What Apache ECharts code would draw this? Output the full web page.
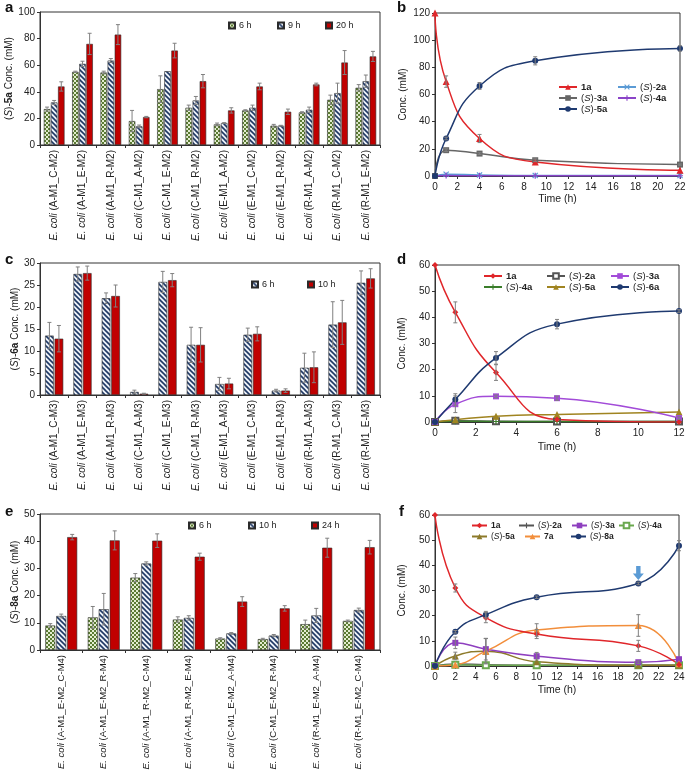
<!DOCTYPE html>
<html>
<head>
<meta charset="utf-8">
<script src="https://cdn.jsdelivr.net/npm/echarts@6/dist/echarts.min.js"></script>
<style>
  html, body { margin: 0; padding: 0; background: #fff; }
  #chart { width: 685px; height: 771px; }
</style>
</head>
<body>
<div id="chart"></div>
<script>
// ---- panel a : (S)-5a, two-module strains
const catsA = ['A-M1_C-M2', 'A-M1_E-M2', 'A-M1_R-M2', 'C-M1_A-M2', 'C-M1_E-M2', 'C-M1_R-M2',
  'E-M1_A-M2', 'E-M1_C-M2', 'E-M1_R-M2', 'R-M1_A-M2', 'R-M1_C-M2', 'R-M1_E-M2'];
const a6h = [27, 55, 54.5, 18, 42, 28, 15.5, 26, 14.5, 24.5, 34, 43];
const a6hErr = [1.5, 0.5, 1, 8, 10, 2, 1, 0.5, 1, 0.5, 3.5, 2.4];
const a9h = [32, 61, 63.5, 14, 55.5, 33.5, 16.5, 28, 14.5, 26.5, 39, 48];
const a9hErr = [1.5, 2, 1.5, 1, 0, 3, 0.3, 2, 0.3, 2, 7.5, 4.6];
const a20h = [44, 76, 83, 21, 71, 48, 26, 44, 25, 45.5, 62, 66.6];
const a20hErr = [3.5, 8, 7.5, 0.5, 5.5, 5, 2, 2.5, 2, 1, 9, 3.8];

// ---- panel c : (S)-6a
const catsC = ['A-M1_C-M3', 'A-M1_E-M3', 'A-M1_R-M3', 'C-M1_A-M3', 'C-M1_E-M3', 'C-M1_R-M3',
  'E-M1_A-M3', 'E-M1_C-M3', 'E-M1_R-M3', 'R-M1_A-M3', 'R-M1_C-M3', 'R-M1_E-M3'];
const c6h = [13.5, 27.5, 22, 0.7, 25.7, 11.4, 2.5, 13.7, 1, 6.2, 16, 25.5];
const c6hErr = [3, 1.6, 1.2, 0.4, 2.4, 4, 1.5, 1.5, 0.3, 3.3, 5.2, 2.7];
const c10h = [12.8, 27.7, 22.5, 0.3, 26.1, 11.4, 2.6, 13.9, 1, 6.3, 16.5, 26.5];
const c10hErr = [3, 1.6, 2.5, 0.1, 1.5, 3.9, 1.2, 1.6, 0.4, 3.5, 5, 2.2];

// ---- panel e : (S)-8a, three-module strains
const catsE = ['A-M1_E-M2_C-M4', 'A-M1_E-M2_R-M4', 'A-M1_R-M2_C-M4', 'A-M1_R-M2_E-M4',
  'C-M1_E-M2_A-M4', 'C-M1_E-M2_R-M4', 'R-M1_E-M2_A-M4', 'R-M1_E-M2_C-M4'];
const e6h = [9, 12, 26.6, 11.2, 4.2, 4, 9.5, 10.7];
const e6hErr = [0.7, 4, 1.5, 1, 0.3, 0.3, 1.5, 0.3];
const e10h = [12.5, 15, 31.8, 11.8, 6.1, 5.3, 12.7, 14.7];
const e10hErr = [0.7, 5.8, 0.6, 0.8, 0.3, 0.4, 2.6, 0.7];
const e24h = [41.5, 40.3, 40.2, 34.3, 17.8, 15.3, 37.6, 37.8];
const e24hErr = [1, 3.5, 2.5, 1.3, 1.8, 1, 3.5, 2.5];

// ---- panel b : time course to (S)-5a
const timeB = [0, 1, 4, 9, 22];
const b1a = [120, 69.5, 27.6, 10.3, 4.2];
const b1aErr = [0, 4.2, 3, 0, 0];
const b2a = [0, 1.3, 0.8, 0.4, 0.3];
const b3a = [0, 19, 16.5, 11.6, 8.4];
const b3aErr = [0, 1, 0.6, 1, 0.5];
const b4a = [0, 0.3, 0.2, 0.2, 0.2];
const b5a = [0, 27.6, 66.3, 84.8, 93.9];
const b5aErr = [0, 1, 2.5, 3, 2];

// ---- panel d : time course to (S)-6a
const timeD = [0, 1, 3, 6, 12];
const d1a = [60, 41.9, 18.9, 1, 0];
const d1aErr = [0, 4, 3, 0, 0];
const d2a = [0, 0.5, 0.3, 0.2, 0.2];
const d3a = [0, 6.8, 9.8, 9.1, 1.5];
const d3aErr = [0, 3.2, 0.5, 0.8, 0.5];
const d4a = [0, 0.3, 0.2, 0.2, 0.2];
const d5a = [0, 0.9, 2.2, 2.9, 3.8];
const d6a = [0, 8.6, 24.5, 37.4, 42.4];
const d6aErr = [0, 2.2, 2.4, 1.8, 0.5];

// ---- panel f : time course to (S)-8a
const timeF = [0, 2, 5, 10, 20, 24];
const f1a = [60, 31, 19.2, 12.7, 8, 0.6];
const f1aErr = [0, 1.6, 2, 1.8, 2.2, 0];
const f2a = [0, 0.8, 0.5, 0.3, 0.3, 0.3];
const f3a = [0, 9.2, 6.7, 3.9, 1.5, 2.7];
const f3aErr = [0, 2.3, 4.3, 1.5, 0.5, 0];
const f4a = [0, 0.5, 0.3, 0.3, 0.3, 0.3];
const f5a = [0, 4, 5.9, 1.7, 0.3, 0.3];
const f5aErr = [0, 1.5, 5, 0, 0, 0];
const f7a = [0, 0.5, 5.9, 14.3, 16.1, 0.9];
const f7aErr = [0, 0, 5, 2.5, 4.3, 0];
const f8a = [0, 13.6, 20.4, 27.3, 32.8, 47.8];
const f8aErr = [0, 0.5, 1.3, 0.5, 0.5, 2];
const arrowAt = [20, 37];

const FONT = 'Liberation Sans, Arial, sans-serif';
const RED = '#c00000';
const NAVY = '#1f3a70';

function checkPattern() {
  const c = document.createElement('canvas');
  c.width = 4; c.height = 4;
  const g = c.getContext('2d');
  g.fillStyle = '#e3edd0'; g.fillRect(0, 0, 4, 4);
  g.fillStyle = '#5a7a32'; g.fillRect(0, 0, 2, 2); g.fillRect(2, 2, 2, 2);
  return { image: c, repeat: 'repeat' };
}
function stripePattern() {
  const s = 5;
  const c = document.createElement('canvas');
  c.width = s; c.height = s;
  const g = c.getContext('2d');
  g.fillStyle = '#eef2f8'; g.fillRect(0, 0, s, s);
  g.strokeStyle = '#1f3864'; g.lineWidth = 1.6;
  [-s, 0, s].forEach(k => {
    g.beginPath(); g.moveTo(k - 1, -1); g.lineTo(k + s + 1, s + 1); g.stroke();
  });
  return { image: c, repeat: 'repeat' };
}
const CHECK = checkPattern();
const STRIPE = stripePattern();

const CROSS = 'path://M0,1.4L1.4,0L5,3.6L8.6,0L10,1.4L6.4,5L10,8.6L8.6,10L5,6.4L1.4,10L0,8.6L3.6,5Z';
const PLUS = 'path://M4,0H6V4H10V6H6V10H4V6H0V4H4Z';
const ARROW = 'path://M3,0L7,0L7,7L10,7L5,13L0,7L3,7Z';

// '(S)-5a' -> italic S, bold 5a
function richName(s) {
  const m = s.match(/^\(S\)-(\w+)$/);
  if (m) return '({i|S})-{b|' + m[1] + '}';
  if (/^\d+a$/.test(s)) return '{b|' + s + '}';
  return s;
}
const rich = (fs) => ({
  i: { fontStyle: 'italic', fontSize: fs, fontFamily: FONT, color: '#222' },
  b: { fontWeight: 'bold', fontSize: fs, fontFamily: FONT, color: '#222' },
});

function errShape(x, lo, hi, cap) {
  const st = { stroke: '#808080', lineWidth: 1 };
  return {
    type: 'group',
    children: [
      { type: 'line', shape: { x1: x, y1: lo, x2: x, y2: hi }, style: st },
      { type: 'line', shape: { x1: x - cap, y1: hi, x2: x + cap, y2: hi }, style: st },
      { type: 'line', shape: { x1: x - cap, y1: lo, x2: x + cap, y2: lo }, style: st },
    ],
  };
}

// error bars for grouped bars: n bars per category, this one is index idx
function barErr(gi, vals, errs, n, idx, cg, bg) {
  const data = [];
  vals.forEach((v, i) => { if (errs[i] > 0) data.push([i, v - errs[i], v + errs[i]]); });
  return {
    type: 'custom', xAxisIndex: gi, yAxisIndex: gi, z: 10, silent: true,
    data, encode: { x: 0, y: [1, 2] },
    renderItem(params, api) {
      const band = api.size([1, 0])[0];
      const w = band * (1 - cg) / (n + (n - 1) * bg);
      const gw = w * n + w * bg * (n - 1);
      const base = api.coord([api.value(0), 0]);
      const cx = base[0] - gw / 2 + idx * w * (1 + bg) + w / 2;
      const lo = api.coord([api.value(0), api.value(1)])[1];
      const hi = api.coord([api.value(0), api.value(2)])[1];
      return errShape(cx, lo, hi, 2);
    },
  };
}

function lineErr(gi, xs, vals, errs) {
  const data = [];
  xs.forEach((x, i) => { if (errs[i] > 0) data.push([x, vals[i] - errs[i], vals[i] + errs[i]]); });
  return {
    type: 'custom', xAxisIndex: gi, yAxisIndex: gi, z: 10, silent: true,
    data, encode: { x: 0, y: [1, 2] },
    renderItem(params, api) {
      const lo = api.coord([api.value(0), api.value(1)]);
      const hi = api.coord([api.value(0), api.value(2)]);
      return errShape(lo[0], lo[1], hi[1], 2);
    },
  };
}

function bar(gi, name, vals, color, cg, bg) {
  return {
    type: 'bar', name, xAxisIndex: gi, yAxisIndex: gi, data: vals,
    barCategoryGap: cg * 100 + '%', barGap: bg * 100 + '%',
    itemStyle: { color, borderColor: '#2a2a2a', borderWidth: 0.6 },
    emphasis: { disabled: true },
  };
}

function line(gi, name, xs, ys, color, symbol, size, extra) {
  return Object.assign({
    type: 'line', name, xAxisIndex: gi, yAxisIndex: gi,
    data: xs.map((x, i) => [x, ys[i]]),
    smooth: 0.5, symbol, symbolSize: size, showSymbol: true,
    lineStyle: { color, width: 1.5 },
    itemStyle: { color },
    emphasis: { disabled: true },
  }, extra || {});
}

function catAxis(gi, cats, fs) {
  return {
    type: 'category', gridIndex: gi, data: cats,
    axisLine: { lineStyle: { color: '#333' } },
    axisTick: { show: true, length: 3, lineStyle: { color: '#333' } },
    axisLabel: {
      rotate: 90, interval: 0, fontSize: fs, color: '#222', fontFamily: FONT, margin: 5,
      formatter: v => '{i|E. coli} (' + v + ')',
      rich: { i: { fontStyle: 'italic', fontSize: fs, fontFamily: FONT, color: '#222' } },
    },
  };
}
function valAxisX(gi, max, interval, gap) {
  return {
    type: 'value', gridIndex: gi, min: 0, max, interval,
    splitLine: { show: false },
    axisLine: { show: true, onZero: false, lineStyle: { color: '#333' } },
    axisTick: { show: true, length: 3, lineStyle: { color: '#333' } },
    axisLabel: { fontSize: 10, color: '#222', fontFamily: FONT, margin: 6 },
    name: 'Time (h)', nameLocation: 'middle', nameGap: gap,
    nameTextStyle: { fontSize: 10.5, color: '#222', fontFamily: FONT },
  };
}
function valAxisY(gi, max, interval, name, gap) {
  return {
    type: 'value', gridIndex: gi, min: 0, max, interval,
    splitLine: { show: false },
    axisLine: { show: true, lineStyle: { color: '#333' } },
    axisTick: { show: true, length: 3, lineStyle: { color: '#333' } },
    axisLabel: { fontSize: 10, color: '#222', fontFamily: FONT, margin: 5 },
    name, nameLocation: 'middle', nameGap: gap, nameRotate: 90,
    nameTextStyle: { fontSize: 10, color: '#222', fontFamily: FONT, rich: rich(10) },
  };
}

const legendFmt = n => richName(n.slice(n.indexOf(':') + 1));
function leg(name, left, cy, box, small) {
  const fs = box ? 9 : (small ? 8.5 : 9.5);
  return {
    data: [name], left, top: cy - 6, padding: 0, itemGap: 0,
    itemWidth: box ? 6 : (small ? 15 : 18), itemHeight: box ? 6 : 7,
    icon: box ? 'rect' : undefined,
    selectedMode: false, formatter: legendFmt,
    textStyle: { fontSize: fs, color: '#222', fontFamily: FONT, rich: rich(fs), padding: [0, 0, 0, -1] },
  };
}

const grid = [
  { left: 40, top: 12, width: 340, height: 133 },   // a
  { left: 435, top: 13, width: 245, height: 163 },  // b
  { left: 40, top: 263, width: 340, height: 132 },  // c
  { left: 435, top: 265, width: 244, height: 157 }, // d
  { left: 40, top: 514, width: 340, height: 136 },  // e
  { left: 435, top: 515, width: 244, height: 151 }, // f
].map(g => Object.assign({
  show: true, borderColor: '#333', borderWidth: 1, backgroundColor: 'transparent',
  containLabel: false, outerBoundsMode: 'none',
}, g));

const letters = [['a', 5, 0], ['b', 397, 0], ['c', 5, 252], ['d', 397, 252], ['e', 5, 504], ['f', 399, 504]];

const option = {
  animation: false,
  textStyle: { fontFamily: FONT },
  title: letters.map(([t, x, y]) => ({
    text: t, left: x, top: y, padding: 0,
    textStyle: { fontSize: 15, fontWeight: 'bold', color: '#111', fontFamily: FONT },
  })),
  grid,
  xAxis: [
    catAxis(0, catsA, 10),
    valAxisX(1, 22, 2, 18),
    catAxis(2, catsC, 10),
    valAxisX(3, 12, 2, 20),
    catAxis(4, catsE, 9.5),
    valAxisX(5, 24, 2, 19),
  ],
  yAxis: [
    valAxisY(0, 100, 20, '({i|S})-{b|5a} Conc. (mM)', 17),
    valAxisY(1, 120, 20, 'Conc. (mM)', 27),
    valAxisY(2, 30, 5, '({i|S})-{b|6a} Conc. (mM)', 18),
    valAxisY(3, 60, 10, 'Conc. (mM)', 28),
    valAxisY(4, 50, 10, '({i|S})-{b|8a} Conc. (mM)', 18),
    valAxisY(5, 60, 10, 'Conc. (mM)', 28),
  ],
  legend: [
    leg('a:6 h', 228, 27, true), leg('a:9 h', 277, 27, true), leg('a:20 h', 325, 27, true),
    leg('c:6 h', 251, 286, true), leg('c:10 h', 307, 286, true),
    leg('e:6 h', 188, 527, true), leg('e:10 h', 248, 527, true), leg('e:24 h', 311, 527, true),
    leg('b:1a', 558, 88), leg('b:(S)-2a', 617, 88),
    leg('b:(S)-3a', 558, 99), leg('b:(S)-4a', 617, 99),
    leg('b:(S)-5a', 558, 110),
    leg('d:1a', 483, 277), leg('d:(S)-2a', 546, 277), leg('d:(S)-3a', 610, 277),
    leg('d:(S)-4a', 483, 288), leg('d:(S)-5a', 546, 288), leg('d:(S)-6a', 610, 288),
    leg('f:1a', 471, 527, false, true), leg('f:(S)-2a', 518, 527, false, true),
    leg('f:(S)-3a', 571, 527, false, true), leg('f:(S)-4a', 618, 527, false, true),
    leg('f:(S)-5a', 471, 538, false, true), leg('f:7a', 524, 538, false, true),
    leg('f:(S)-8a', 570, 538, false, true),
  ],
  series: [
    // a
    bar(0, 'a:6 h', a6h, CHECK, 0.27, 0.1),
    bar(0, 'a:9 h', a9h, STRIPE, 0.27, 0.1),
    bar(0, 'a:20 h', a20h, RED, 0.27, 0.1),
    barErr(0, a6h, a6hErr, 3, 0, 0.27, 0.1),
    barErr(0, a9h, a9hErr, 3, 1, 0.27, 0.1),
    barErr(0, a20h, a20hErr, 3, 2, 0.27, 0.1),
    // c
    bar(2, 'c:6 h', c6h, STRIPE, 0.36, 0.1),
    bar(2, 'c:10 h', c10h, RED, 0.36, 0.1),
    barErr(2, c6h, c6hErr, 2, 0, 0.36, 0.1),
    barErr(2, c10h, c10hErr, 2, 1, 0.36, 0.1),
    // e
    bar(4, 'e:6 h', e6h, CHECK, 0.25, 0.1),
    bar(4, 'e:10 h', e10h, STRIPE, 0.25, 0.1),
    bar(4, 'e:24 h', e24h, RED, 0.25, 0.1),
    barErr(4, e6h, e6hErr, 3, 0, 0.25, 0.1),
    barErr(4, e10h, e10hErr, 3, 1, 0.25, 0.1),
    barErr(4, e24h, e24hErr, 3, 2, 0.25, 0.1),
    // b
    line(1, 'b:(S)-2a', timeB, b2a, '#5b9bd5', CROSS, 6),
    line(1, 'b:(S)-4a', timeB, b4a, '#8b44c8', PLUS, 6),
    line(1, 'b:(S)-3a', timeB, b3a, '#666666', 'rect', 6),
    line(1, 'b:1a', timeB, b1a, '#e0262a', 'triangle', 7),
    line(1, 'b:(S)-5a', timeB, b5a, NAVY, 'circle', 6),
    lineErr(1, timeB, b1a, b1aErr),
    lineErr(1, timeB, b3a, b3aErr),
    lineErr(1, timeB, b5a, b5aErr),
    // d
    line(3, 'd:(S)-2a', timeD, d2a, '#555555', 'emptyRect', 6),
    line(3, 'd:(S)-4a', timeD, d4a, '#3a7d2a', PLUS, 6),
    line(3, 'd:(S)-5a', timeD, d5a, '#a08420', 'triangle', 7),
    line(3, 'd:(S)-3a', timeD, d3a, '#a24bd8', 'rect', 6),
    line(3, 'd:1a', timeD, d1a, '#e0262a', 'diamond', 6),
    line(3, 'd:(S)-6a', timeD, d6a, NAVY, 'circle', 6),
    lineErr(3, timeD, d1a, d1aErr),
    lineErr(3, timeD, d3a, d3aErr),
    lineErr(3, timeD, d6a, d6aErr),
    // f
    line(5, 'f:(S)-2a', timeF, f2a, '#555555', PLUS, 6),
    line(5, 'f:(S)-4a', timeF, f4a, '#6aa84f', 'emptyRect', 6),
    line(5, 'f:(S)-5a', timeF, f5a, '#8d7a2a', 'triangle', 7),
    line(5, 'f:(S)-3a', timeF, f3a, '#8e3fbf', 'rect', 6),
    line(5, 'f:7a', timeF, f7a, '#f28e3b', 'triangle', 7),
    line(5, 'f:1a', timeF, f1a, '#e0262a', 'diamond', 6),
    line(5, 'f:(S)-8a', timeF, f8a, NAVY, 'circle', 6, {
      markPoint: {
        silent: true, label: { show: false },
        data: [{ coord: arrowAt, symbol: ARROW, symbolSize: [11, 14], itemStyle: { color: '#5b9bd5' } }],
      },
    }),
    lineErr(5, timeF, f1a, f1aErr),
    lineErr(5, timeF, f3a, f3aErr),
    lineErr(5, timeF, f5a, f5aErr),
    lineErr(5, timeF, f7a, f7aErr),
    lineErr(5, timeF, f8a, f8aErr),
  ],
};

const chart = echarts.init(document.getElementById('chart'), null, { renderer: 'canvas' });
chart.setOption(option);
</script>
</body>
</html>
